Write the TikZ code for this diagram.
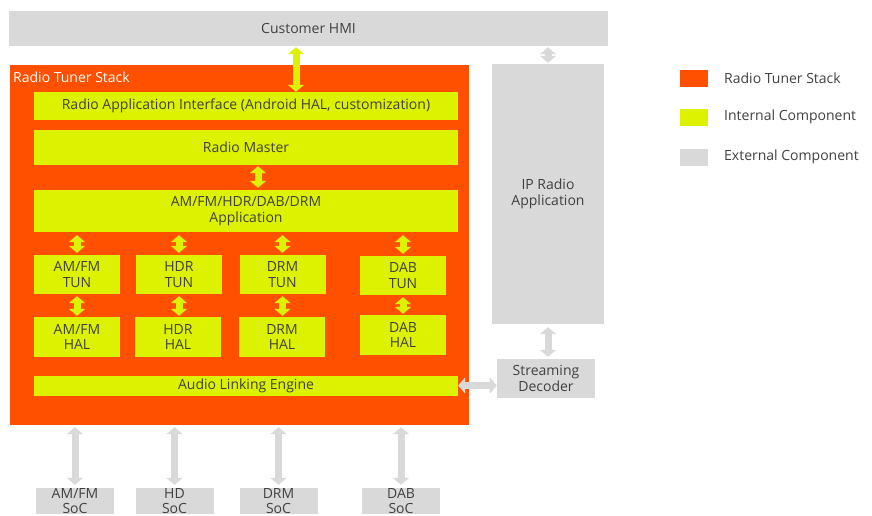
\documentclass[tikz,border=0pt]{standalone}
\usepackage{fontspec}
\setmainfont{Open Sans}
\usetikzlibrary{positioning,arrows.meta}
\definecolor{stackorange}{RGB}{255,80,0}
\definecolor{intyellow}{RGB}{221,242,0}
\definecolor{extgray}{RGB}{217,217,217}
\definecolor{txtgray}{RGB}{64,64,64}

\begin{document}
\begin{tikzpicture}[x=1pt, y=-1pt,
  intbox/.style={fill=intyellow, inner sep=0pt, align=center, text=txtgray, font=\fontsize{14}{15.5}\selectfont},
  extbox/.style={fill=extgray, inner sep=0pt, align=center, text=txtgray, font=\fontsize{14}{15.5}\selectfont},
  tunbox/.style={intbox, minimum width=86pt, minimum height=39pt},
  halbox/.style={intbox, minimum width=86pt, minimum height=40pt},
  socbox/.style={extbox, minimum width=78pt, minimum height=26pt, font=\fontsize{14}{14.5}\selectfont},
  wide/.style={minimum width=424pt},
  key/.style={minimum width=28pt, minimum height=17pt, inner sep=0pt},
  keytxt/.style={anchor=west, inner sep=0pt, text=txtgray, font=\fontsize{14}{15.5}\selectfont},
  fat/.style={line width=7pt, {Triangle[length=7pt,width=16pt]}-{Triangle[length=7pt,width=16pt]}},
  intarrow/.style={fat, draw=intyellow},
  extarrow/.style={fat, draw=extgray}]
  \useasboundingbox (0,0) rectangle (872,515);

  % external parts
  \node[extbox, minimum width=599pt, minimum height=35pt] (hmi) at (308.5,28.5) {Customer HMI};
  \node[extbox, minimum width=112pt, minimum height=260pt] (iprad) at (548,194) {IP Radio\\Application};
  \node[extbox, minimum width=98pt, minimum height=39pt] (strdec) at (546,378.5) {Streaming\\Decoder};

  % the stack
  \node[fill=stackorange, minimum width=459pt, minimum height=360pt, inner sep=0pt] (stack) at (239.5,245) {};
  \node[anchor=west, inner sep=0pt, text=white, font=\fontsize{14}{15.5}\selectfont] (stacklbl) at (13,77) {Radio Tuner Stack};
  \node[intbox, wide, minimum height=28pt] (rai) at (246,106) {Radio Application Interface (Android HAL, customization)};
  \node[intbox, wide, minimum height=35pt] (master) at (246,147.5) {Radio Master};
  \node[intbox, wide, minimum height=42pt] (app) at (246,211) {AM/FM/HDR/DAB/DRM\\Application};
  \node[tunbox] (amfmtun) at (77,274.5) {AM/FM\\TUN};
  \node[tunbox] (hdrtun) at (179,274.5) {HDR\\TUN};
  \node[tunbox] (drmtun) at (282.5,274.5) {DRM\\TUN};
  \node[tunbox] (dabtun) at (403,275.5) {DAB\\TUN};
  \node[halbox] (amfmhal) at (77,337) {AM/FM\\HAL};
  \node[halbox] (hdrhal) at (178,337) {HDR\\HAL};
  \node[halbox] (drmhal) at (282,337) {DRM\\HAL};
  \node[halbox] (dabhal) at (403,335) {DAB\\HAL};
  \node[intbox, wide, minimum height=20pt] (ale) at (246,385.5) {Audio Linking Engine};

  % chips
  \node[socbox] (amfmsoc) at (75,501) {AM/FM\\SoC};
  \node[socbox] (hdsoc) at (174.5,501) {HD\\SoC};
  \node[socbox] (drmsoc) at (278.5,501) {DRM\\SoC};
  \node[socbox] (dabsoc) at (401,501) {DAB\\SoC};

  % legend
  \node[key, fill=stackorange] (k1) at (694,78) {};
  \node[key, fill=intyellow] (k2) at (694,117.5) {};
  \node[key, fill=extgray] (k3) at (694,157.5) {};
  \node[keytxt] at (724,78) {Radio Tuner Stack};
  \node[keytxt] at (724,117) {Internal Component};
  \node[keytxt] at (724,157) {External Component};

  % arrows
  \draw[intarrow, shorten <=1pt] ([xshift=50pt]rai.north |- hmi.south) -- ([xshift=50pt]rai.north);
  \draw[intarrow, shorten <=1pt, shorten >=2pt] ([xshift=12pt]master.south) -- ([xshift=12pt]app.north);
  \foreach \t/\h in {amfmtun/amfmhal, hdrtun/hdrhal, drmtun/drmhal, dabtun/dabhal} {
    \draw[intarrow, shorten <=3pt, shorten >=2pt] (app.south -| \t.north) -- (\t.north);
    \draw[intarrow, shorten <=2pt, shorten >=1pt] (\t.south) -- (\t.south |- \h.north);
  }
  \draw[extarrow, shorten <=1pt, shorten >=1pt] (iprad.north |- hmi.south) -- (iprad.north);
  \draw[extarrow, shorten <=3pt, shorten >=2pt] (iprad.south) -- (iprad.south |- strdec.north);
  \draw[extarrow] (ale.east) -- (ale.east -| strdec.west);
  \foreach \s in {amfmsoc, hdsoc, drmsoc, dabsoc}
    \draw[extarrow, shorten <=2pt, shorten >=3pt] (\s.north |- stack.south) -- (\s.north);
\end{tikzpicture}
\end{document}
